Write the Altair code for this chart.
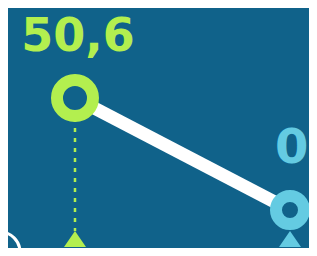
import altair as alt
import pandas as pd

# data
categories = ["A", "B"]
index = [0, 1]
values = [50.6, 0.0]
labels = ["50,6", "0"]
colors = ["#b3ef4f", "#64cbe2"]

BG = "#10628a"
W, H = 301, 240

df = pd.DataFrame({"cat": categories, "i": index, "v": values, "label": labels, "color": colors})

xs = alt.Scale(domain=[-0.3116, 1.0884], nice=False, zero=False)
ys = alt.Scale(domain=[-17.17, 91.26], nice=False, zero=False)
X = alt.X("i:Q", scale=xs, axis=None)
Y = alt.Y("v:Q", scale=ys, axis=None)
C = alt.Color("color:N", scale=None, legend=None)
S = alt.Stroke("color:N", scale=None, legend=None)

base = alt.Chart(df)

line = base.mark_line(color="white", strokeWidth=13).encode(x=X, y=Y)

rule = base.transform_filter(alt.datum.cat == "A").mark_rule(
    strokeDash=[4, 6], strokeWidth=2.5
).encode(x=X, y=Y, y2=alt.value(223), color=C)

tri = base.mark_point(
    shape="M0,-0.73L1,0.73L-1,0.73Z", size=484, filled=True, opacity=1
).encode(x=X, y=alt.value(231), color=C, fill=C)

ring_a = base.transform_filter(alt.datum.cat == "A").mark_point(
    shape="circle", size=1296, strokeWidth=12, fill=BG, filled=False, opacity=1, fillOpacity=1
).encode(x=X, y=Y, stroke=S)

ring_b = base.transform_filter(alt.datum.cat == "B").mark_point(
    shape="circle", size=784, strokeWidth=12, fill=BG, filled=False, opacity=1, fillOpacity=1
).encode(x=X, y=Y, stroke=S)

lab_a = base.transform_filter(alt.datum.cat == "A").mark_text(
    font="DejaVu Sans", fontWeight="bold", fontSize=46, align="center", baseline="alphabetic", dx=3, dy=-47
).encode(x=X, y=Y, text="label:N", color=C)

lab_b = base.transform_filter(alt.datum.cat == "B").mark_text(
    font="DejaVu Sans", fontWeight="bold", fontSize=48, align="left", baseline="alphabetic", dx=-15, dy=-47
).encode(x=X, y=Y, text="label:N", color=C)

deco = alt.Chart(pd.DataFrame({"k": [0]})).mark_point(
    shape="circle", size=1600, strokeWidth=3, color="white", filled=False, opacity=1
).encode(x=alt.value(-8), y=alt.value(244))

chart = alt.layer(deco, line, rule, tri, ring_a, ring_b, lab_a, lab_b).properties(
    width=W, height=H, background=BG, padding=0,
    autosize=alt.AutoSizeParams(type="none", contains="padding")
).configure_view(stroke=None, clip=False)

chart.save("out.html", embed_options={"renderer": "svg", "actions": False})
